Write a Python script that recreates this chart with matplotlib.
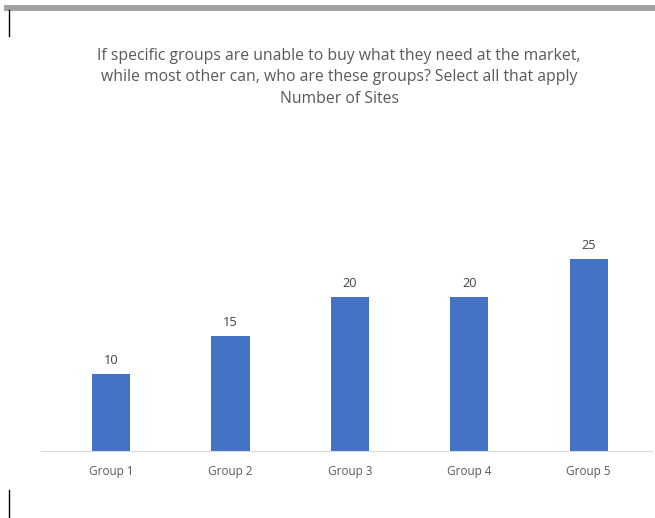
import matplotlib
matplotlib.use("Agg")
import matplotlib.pyplot as plt
from matplotlib.lines import Line2D

categories = ["Group 1", "Group 2", "Group 3", "Group 4", "Group 5"]
values = [10, 15, 20, 20, 25]
title_lines = ["If specific groups are unable to buy what they need at the market,",
               "while most other can, who are these groups? Select all that apply",
               "Number of Sites"]

W, H = 655, 518
fig = plt.figure(figsize=(W / 100, H / 100), dpi=100)
fig.patch.set_facecolor("white")

def fx(px):
    return px / W

def fy(py):
    return 1 - py / H

# decorative frame elements
fig.add_artist(Line2D([fx(7), fx(655)], [fy(7.5), fy(7.5)], color="#a0a0a0", lw=4.2, transform=fig.transFigure))
fig.add_artist(Line2D([fx(9), fx(9)], [fy(10), fy(36)], color="black", lw=1.0, transform=fig.transFigure))
fig.add_artist(Line2D([fx(9), fx(9)], [fy(490), fy(518)], color="black", lw=1.0, transform=fig.transFigure))

font = "Open Sans"
ys = [56, 77, 99]
for t, y in zip(title_lines, ys):
    fig.text(fx(339), fy(y), t, ha="center", va="center", fontsize=11.3, color="#595959", family=font)

# axes: baseline at y=451, x from 41 to 652
top_px = 220
ax = fig.add_axes([fx(41), fy(451), fx(652) - fx(41), (451 - top_px) / H])
x = list(range(len(categories)))
bars = ax.bar(x, values, width=0.32, color="#4472c4")
ax.set_xlim(-0.586, 4.53)
ax.set_ylim(0, 30)
for b, v in zip(bars, values):
    ax.text(b.get_x() + b.get_width() / 2, v + 0.85, str(v), ha="center", va="bottom",
            fontsize=9.2, color="#404040", family=font)
ax.set_xticks(x)
ax.set_xticklabels(categories, family=font, fontsize=8.5, color="#595959")
ax.tick_params(axis="x", length=0, pad=10)
ax.set_yticks([])
for s in ["top", "right", "left"]:
    ax.spines[s].set_visible(False)
ax.spines["bottom"].set_color("#d9d9d9")
ax.spines["bottom"].set_linewidth(0.8)
ax.patch.set_alpha(0)

fig.savefig("out.png", dpi=100)
